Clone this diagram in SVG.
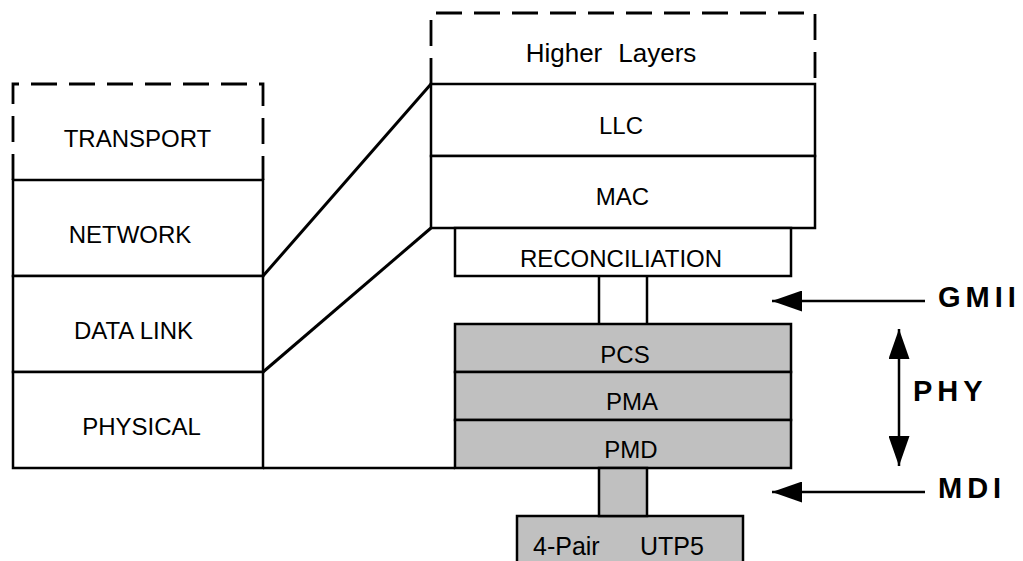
<svg xmlns="http://www.w3.org/2000/svg" width="1023" height="561" viewBox="0 0 1023 561">
<style>
.box{fill:#fff;stroke:#000;stroke-width:2.5}
.gray{fill:#c0c0c0;stroke:#000;stroke-width:2.5}
.dash{fill:none;stroke:#000;stroke-width:2.8;stroke-dasharray:26 12}
.ln{fill:none;stroke:#000;stroke-width:2.5}
.diag{fill:none;stroke:#000;stroke-width:3}
.t{font-family:"Liberation Sans",Arial,sans-serif;font-size:24px;fill:#000;text-anchor:middle}
.b{font-family:"Liberation Sans",Arial,sans-serif;font-size:29px;font-weight:bold;fill:#000;letter-spacing:5px}
</style>
<defs>
<marker id="ah" viewBox="0 0 30 21" refX="30" refY="10.5" markerWidth="30" markerHeight="21" markerUnits="userSpaceOnUse" orient="auto-start-reverse">
<path d="M0,0 L30,10.5 L0,21 z" fill="#000"/>
</marker>
</defs>
<rect width="1023" height="561" fill="#fff"/>

<g id="transport">
<path class="dash" d="M13,180 V84 H263 V180"/>
<text class="t" x="137.5" y="147">TRANSPORT</text>
</g>
<g id="network">
<rect class="box" x="13" y="180" width="250" height="96"/>
<text class="t" x="130" y="243">NETWORK</text>
</g>
<g id="datalink">
<rect class="box" x="13" y="276" width="250" height="96"/>
<text class="t" x="133.5" y="339">DATA LINK</text>
</g>
<g id="physical">
<rect class="box" x="13" y="372" width="250" height="96"/>
<text class="t" x="141.5" y="435">PHYSICAL</text>
</g>

<g id="higher-layers">
<path class="dash" d="M431,84 V13 H815 V84"/>
<text class="t" x="611" y="62" style="font-size:26px">Higher<tspan dx="16">Layers</tspan></text>
</g>
<g id="llc">
<rect class="box" x="431" y="84" width="384" height="72"/>
<text class="t" x="621" y="134">LLC</text>
</g>
<g id="mac">
<rect class="box" x="431" y="156" width="384" height="72"/>
<text class="t" x="622.5" y="205">MAC</text>
</g>
<g id="reconciliation">
<rect class="box" x="455" y="228" width="336" height="48"/>
<text class="t" x="621" y="267">RECONCILIATION</text>
</g>
<g id="pcs">
<rect class="gray" x="455" y="324" width="336" height="48"/>
<text class="t" x="625" y="363">PCS</text>
</g>
<g id="pma">
<rect class="gray" x="455" y="372" width="336" height="48"/>
<text class="t" x="632" y="410">PMA</text>
</g>
<g id="pmd">
<rect class="gray" x="455" y="420" width="336" height="48"/>
<text class="t" x="631" y="458">PMD</text>
</g>
<g id="utp5">
<rect class="gray" x="517" y="516" width="226" height="60"/>
<text class="t" x="533" y="555" style="text-anchor:start;font-size:25px">4-Pair<tspan x="640">UTP5</tspan></text>
</g>
<g id="gmii-label"><text class="b" x="938" y="307">GMII</text></g>
<g id="phy-label"><text class="b" x="913" y="401">PHY</text></g>
<g id="mdi-label"><text class="b" x="938" y="498">MDI</text></g>

<g id="connectors">
<line class="ln" x1="263" y1="468" x2="455" y2="468"/>
<line class="diag" x1="263" y1="276" x2="431" y2="84"/>
<line class="diag" x1="263" y1="372" x2="431" y2="228"/>
<line class="ln" x1="599" y1="276" x2="599" y2="324"/>
<line class="ln" x1="647" y1="276" x2="647" y2="324"/>
<rect class="gray" x="599" y="468" width="48" height="48"/>
<line class="ln" x1="925" y1="301" x2="772" y2="301" marker-end="url(#ah)"/>
<line class="ln" x1="925" y1="492" x2="772" y2="492" marker-end="url(#ah)"/>
<line class="ln" x1="899" y1="329" x2="899" y2="466" marker-start="url(#ah)" marker-end="url(#ah)"/>
</g>
</svg>
